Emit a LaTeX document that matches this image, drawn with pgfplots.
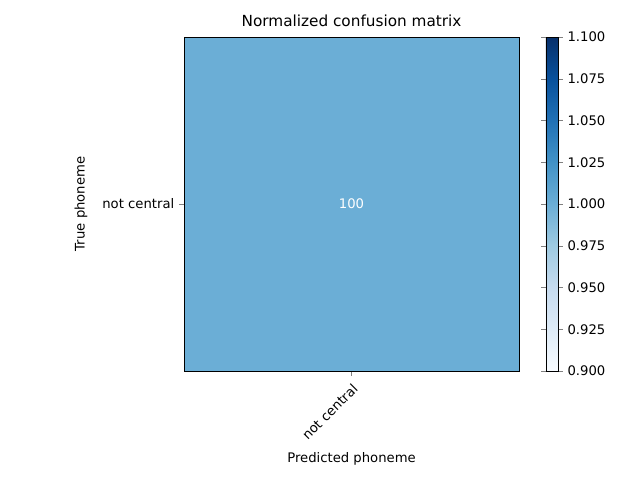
\documentclass[border=0pt]{standalone}
\usepackage{pgfplots}
\pgfplotsset{compat=1.18}
\usepackage{fontspec}
\setmainfont{DejaVu Sans}
\begin{document}
\begin{tikzpicture}
\path[use as bounding box] (0,0) rectangle (460.8pt,345.6pt);
\begin{axis}[
  at={(132.5pt,78.5pt)}, anchor=south west, scale only axis,
  width=241.2pt, height=240.5pt,
  axis on top,
  xmin=-0.5, xmax=0.5, ymin=-0.5, ymax=0.5,
  xtick={0}, xticklabels={not central},
  ytick={0}, yticklabels={not central},
  xticklabel style={rotate=45, anchor=north east, font=\fontsize{9.5}{11}\selectfont},
  yticklabel style={font=\fontsize{9.5}{11}\selectfont},
  tick align=outside, tick pos=left,
  major tick length=3.5pt,
  title={Normalized confusion matrix},
  title style={font=\fontsize{11}{13}\selectfont, yshift=-2pt},
  xlabel={Predicted phoneme}, ylabel={True phoneme},
  label style={font=\fontsize{9.5}{11}\selectfont},
  ylabel style={yshift=4pt},
  colormap={blues}{rgb255=(247,251,255) rgb255=(222,235,247) rgb255=(198,219,239) rgb255=(158,202,225) rgb255=(107,174,214) rgb255=(66,146,198) rgb255=(33,113,181) rgb255=(8,81,156) rgb255=(8,48,107)},
  point meta min=0.9, point meta max=1.1,
  colorbar,
  colorbar style={at={(parent axis.north east)}, anchor=north west, xshift=10.8pt,
    width=8.6pt, ytick={0.9,0.925,...,1.1},
    tick align=outside, major tick length=3.5pt,
    yticklabel style={/pgf/number format/.cd, fixed, fixed zerofill, precision=3, /tikz/.cd, font=\fontsize{9.5}{11}\selectfont},
    /pgf/number format/assume math mode=true},
  /pgf/number format/assume math mode=true,
]
\addplot[fill={rgb,255:red,107;green,174;blue,214}, draw=none] coordinates {(-0.5,-0.5) (0.5,-0.5) (0.5,0.5) (-0.5,0.5)} -- cycle;
\node[white, font=\fontsize{9.5}{11}\selectfont] at (axis cs:0,0) {100};
\end{axis}
\end{tikzpicture}
\end{document}
